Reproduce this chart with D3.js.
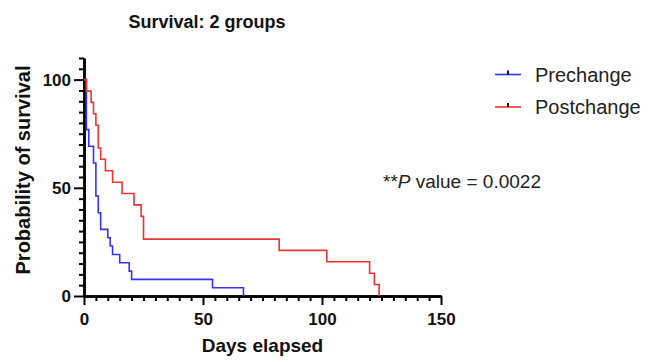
<!DOCTYPE html>
<html>
<head>
<meta charset="utf-8">
<script src="https://cdn.jsdelivr.net/npm/d3@7"></script>
<style>
  body { margin: 0; background: #fff; }
  svg { display: block; font-family: 'Liberation Sans', Arial, sans-serif; }
</style>
</head>
<body>
<svg id="chart" width="648" height="362"></svg>
<script>
// Kaplan-Meier steps
const preDays = [0, 1, 2, 4, 5, 6, 7, 10, 11, 12, 15, 19, 20, 54, 67];
const preSurv = [100, 76.9, 69.2, 61.5, 46.2, 38.5, 30.8, 26.9, 23.1, 19.2, 15.4, 11.5, 7.7, 3.8, 0];
const postDays = [0, 1, 3, 4, 5, 6, 7, 9, 12, 16, 21, 24, 25, 82, 102, 120, 122, 124];
const postSurv = [100, 94.7, 89.5, 84.2, 78.9, 68.4, 63.2, 57.9, 52.6, 47.4, 42.1, 36.8, 26.3, 21.1, 15.8, 10.5, 5.3, 0];

const seriesNames = ['Prechange', 'Postchange'];
const xTicks = [0, 50, 100, 150];
const yTicks = [0, 50, 100];

const svg = d3.select('#chart');

const x = d3.scaleLinear().domain([0, 150]).range([84, 441]);
const y = d3.scaleLinear().domain([0, 110]).range([296, 58]);
const color = d3.scaleOrdinal().domain(seriesNames).range(['#3434ec', '#ec3434']);

const series = [
  { name: 'Prechange', pts: preDays.map((d, i) => [d, preSurv[i]]) },
  { name: 'Postchange', pts: postDays.map((d, i) => [d, postSurv[i]]) }
];

// minor ticks every 5
const xMinor = d3.range(0, 151, 5).filter(v => xTicks.indexOf(v) < 0);
const yMinor = d3.range(0, 111, 5).filter(v => yTicks.indexOf(v) < 0);

function styleAxis(g) {
  g.select('.domain').attr('stroke', '#000').attr('stroke-width', 2.5);
  g.selectAll('.tick line').attr('stroke', '#000').attr('stroke-width', 2);
  g.selectAll('.tick text')
    .attr('fill', '#111')
    .attr('font-size', 17)
    .attr('font-weight', 'bold');
}

// x axis
svg.append('g')
  .attr('transform', 'translate(0,' + y(0) + ')')
  .call(d3.axisBottom(x).tickValues(xMinor).tickSize(5).tickSizeOuter(0).tickFormat(''))
  .call(styleAxis);
svg.append('g')
  .attr('transform', 'translate(0,' + y(0) + ')')
  .call(d3.axisBottom(x).tickValues(xTicks).tickSize(9).tickSizeOuter(0).tickPadding(8))
  .call(styleAxis);

// y axis
svg.append('g')
  .attr('transform', 'translate(' + x(0) + ',0)')
  .call(d3.axisLeft(y).tickValues(yMinor).tickSize(5).tickSizeOuter(0).tickFormat(''))
  .call(styleAxis);
svg.append('g')
  .attr('transform', 'translate(' + x(0) + ',0)')
  .call(d3.axisLeft(y).tickValues(yTicks).tickSize(10).tickSizeOuter(0).tickPadding(3))
  .call(styleAxis);

// survival curves
const line = d3.line()
  .x(d => x(d[0]))
  .y(d => y(d[1]))
  .curve(d3.curveStepAfter);

svg.append('g')
  .selectAll('path')
  .data(series)
  .enter()
  .append('path')
  .attr('d', d => line(d.pts))
  .attr('fill', 'none')
  .attr('stroke', d => color(d.name))
  .attr('stroke-width', 1.6);

// titles
svg.append('text')
  .attr('x', 207)
  .attr('y', 28)
  .attr('text-anchor', 'middle')
  .attr('font-size', 18)
  .attr('font-weight', 'bold')
  .attr('fill', '#111')
  .text('Survival: 2 groups');

svg.append('text')
  .attr('x', (x(0) + x(150)) / 2)
  .attr('y', 352)
  .attr('text-anchor', 'middle')
  .attr('font-size', 19)
  .attr('font-weight', 'bold')
  .attr('fill', '#111')
  .text('Days elapsed');

svg.append('text')
  .attr('transform', 'translate(30,170) rotate(-90)')
  .attr('text-anchor', 'middle')
  .attr('font-size', 20)
  .attr('font-weight', 'bold')
  .attr('fill', '#111')
  .text('Probability of survival');

// legend
const legend = svg.append('g')
  .selectAll('g')
  .data(seriesNames)
  .enter()
  .append('g')
  .attr('transform', (d, i) => 'translate(495,' + (74.5 + i * 32.5) + ')');

legend.append('line')
  .attr('x1', 0).attr('x2', 26)
  .attr('stroke', color)
  .attr('stroke-width', 1.6);

legend.append('line')
  .attr('x1', 13).attr('x2', 13)
  .attr('y1', 0).attr('y2', -4)
  .attr('stroke', '#000')
  .attr('stroke-width', 1.8);

legend.append('text')
  .attr('x', 40)
  .attr('y', 7)
  .attr('font-size', 20)
  .attr('fill', '#222')
  .text(d => d);

// p value note
const note = svg.append('text')
  .attr('x', 383)
  .attr('y', 188)
  .attr('font-size', 19)
  .attr('fill', '#222');
note.append('tspan').text('**');
note.append('tspan').attr('font-style', 'italic').text('P');
note.append('tspan').text(' value = 0.0022');
</script>
</body>
</html>
